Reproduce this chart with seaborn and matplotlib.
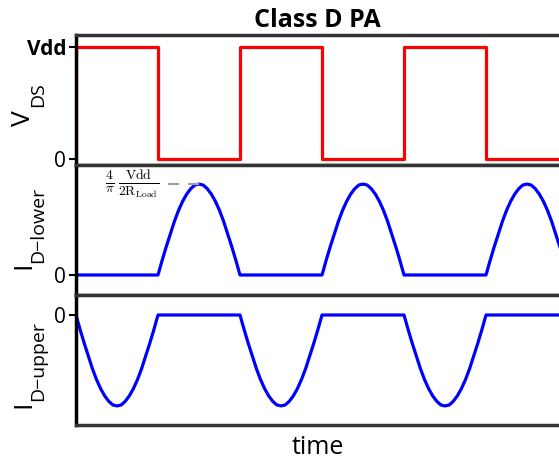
import numpy as np
import pandas as pd
import matplotlib
matplotlib.use("Agg")
import matplotlib.pyplot as plt
import seaborn as sns

# Waveform data (time in half-periods)
half_periods = [0, 1, 2, 3, 4, 5]
vds_level = [1, 0, 1, 0, 1, 0]          # V_DS high / low per half-period
# half-sine lobe shape (normalised to the peak)
lobe_shape = [0, 0.16, 0.31, 0.45, 0.59, 0.71, 0.81, 0.89, 0.95, 0.99, 1.0,
              0.99, 0.95, 0.89, 0.81, 0.71, 0.59, 0.45, 0.31, 0.16, 0]
x_max = 5.89

sns.set_style("white")
plt.rcParams['font.family'] = ['Open Sans', 'DejaVu Sans']
for k in ['text.color', 'axes.labelcolor', 'ytick.color', 'xtick.color']:
    plt.rcParams[k] = 'black'

# build the three traces
t_v, v = [], []
t_lo, i_lo = [], []
t_up, i_up = [], []
for hp, lvl in zip(half_periods, vds_level):
    t_v += [hp, hp, hp + 1]
    v += [v[-1] if v else 0, lvl, lvl]
    lobe_t = list(np.linspace(hp, hp + 1, len(lobe_shape)))
    if lvl == 1:
        t_lo += [hp, hp + 1]; i_lo += [0, 0]
        t_up += lobe_t; i_up += [-s for s in lobe_shape]
    else:
        t_lo += lobe_t; i_lo += lobe_shape
        t_up += [hp, hp + 1]; i_up += [0, 0]

df_v = pd.DataFrame({'t': t_v, 'y': v})
df_lo = pd.DataFrame({'t': t_lo, 'y': i_lo})
df_up = pd.DataFrame({'t': t_up, 'y': i_up})

W, H = 559, 466
fig = plt.figure(figsize=(W / 100, H / 100), dpi=100)
left, width, h = 76 / W, 483 / W, 130 / H
ax1 = fig.add_axes([left, (H - 165) / H, width, h])
ax2 = fig.add_axes([left, (H - 295) / H, width, h])
ax3 = fig.add_axes([left, (H - 425) / H, width, h])

sns.lineplot(data=df_v, x='t', y='y', ax=ax1, color='#ff0000', lw=2.3,
             sort=False, estimator=None)
sns.lineplot(data=df_lo, x='t', y='y', ax=ax2, color='#0000ff', lw=2.3,
             sort=False, estimator=None)
sns.lineplot(data=df_up, x='t', y='y', ax=ax3, color='#0000ff', lw=2.3,
             sort=False, estimator=None)

ax1.set_ylim(-0.054, 1.107)
ax2.set_ylim(-0.22, 1.21)
ax3.set_ylim(-1.21, 0.22)

ax1.set_yticks([0, 1])
ax1.set_yticklabels(['0', 'Vdd'])
ax1.get_yticklabels()[1].set_fontweight('bold')
ax2.set_yticks([0])
ax3.set_yticks([0])

# peak annotation
ax2.plot([1.12, 1.56], [1.0, 1.0], color='#a0a0a0', lw=1.6, dashes=(5, 4))
ax2.text(0.35, 1.0, r'$\frac{4}{\pi}\,\frac{\mathrm{Vdd}}{2\mathrm{R}_{\mathrm{Load}}}$',
         fontsize=14, va='center', ha='left', math_fontfamily='cm')

for ax in [ax1, ax2, ax3]:
    ax.set_xlim(0, x_max)
    ax.set_xticks([])
    ax.set_xlabel('')
    ax.set_ylabel('')
    ax.tick_params(axis='y', direction='out', length=5, width=1.5,
                   labelsize=15, left=True, pad=2)
    ax.spines['right'].set_visible(False)
    ax.spines['left'].set_color('black')
    ax.spines['left'].set_linewidth(2.5)
    for s in ['top', 'bottom']:
        ax.spines[s].set_color('#333333')
        ax.spines[s].set_linewidth(2.5)

# y labels with large subscripts: (main, sub, main anchor y, sub anchor y) in pixels
ylabels = [('V', 'DS', 126, 107), ('I', 'D\u2212lower', 269, 263), ('I', 'D\u2212upper', 408, 401)]
for main, sub, y_main, y_sub in ylabels:
    fig.text(30 / W, 1 - y_main / H, main, fontsize=19, rotation=90,
             rotation_mode='anchor', ha='left', va='baseline')
    fig.text(43 / W, 1 - y_sub / H, sub, fontsize=14, rotation=90,
             rotation_mode='anchor', ha='left', va='baseline')

ax1.set_title('Class D PA', fontsize=18, fontweight='bold', pad=6)
ax3.set_xlabel('time', fontsize=18, labelpad=7)

fig.savefig('out.png', dpi=100)
